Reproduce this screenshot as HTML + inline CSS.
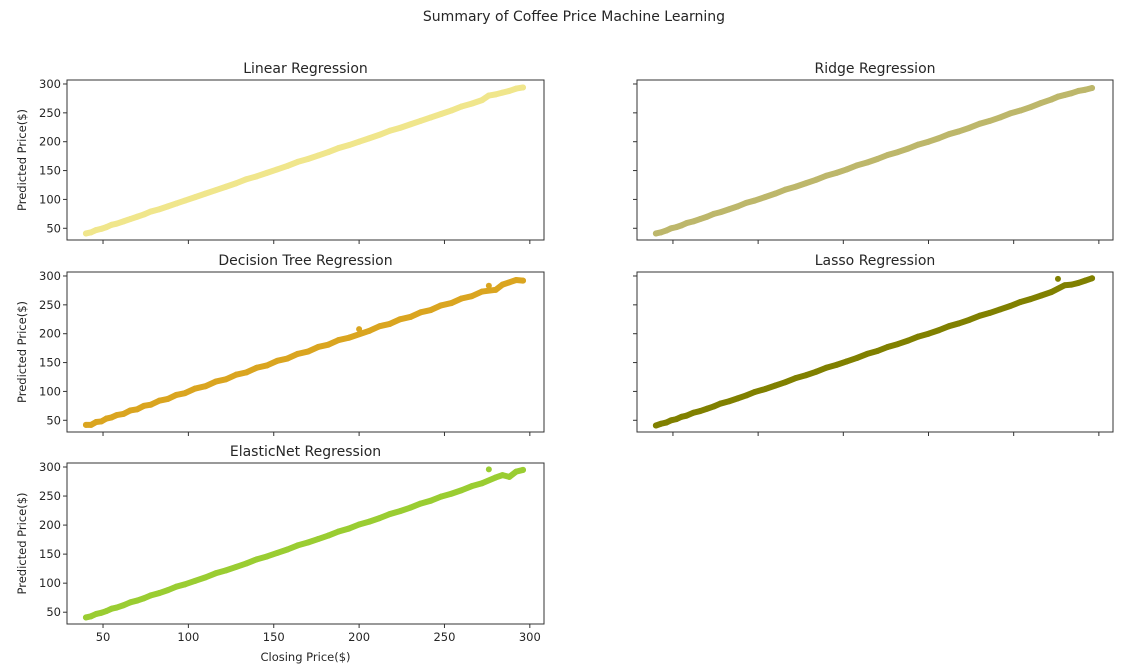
<!DOCTYPE html>
<html><head><meta charset="utf-8">
<style>
html,body{margin:0;padding:0;background:#fff;width:1148px;height:670px;overflow:hidden}
svg text{font-family:"DejaVu Sans","Liberation Sans",sans-serif;fill:#262626}
</style></head>
<body>
<svg id="chart" width="1148" height="670" xmlns="http://www.w3.org/2000/svg">
<text x="574" y="21" text-anchor="middle" font-size="14">Summary of Coffee Price Machine Learning</text>
</svg>
<script>
const closing = [40,43,46,49,52,55,58,62,66,70,74,78,83,88,93,98,104,110,116,122,128,134,140,146,152,158,164,170,176,182,188,194,200,206,212,218,224,230,236,242,248,254,260,266,272,276,280,284,288,292,296];
const predLinear = [41,43,47,49,52,56,58,62,66,70,74,79,83,88,93,98,104,110,116,122,128,135,140,146,152,158,165,170,176,182,189,194,200,206,212,219,224,230,236,242,248,254,261,266,272,280,282,285,288,292,294];
const predRidge = [41,43,46,50,52,55,59,62,66,70,75,78,83,88,94,98,104,110,117,122,128,134,141,146,152,159,164,170,177,182,188,195,200,206,213,218,224,231,236,242,249,254,260,267,273,278,281,284,288,290,293];
const predTree = [42,42,47,48,53,55,59,61,67,69,75,77,84,87,94,97,105,109,117,121,129,133,141,145,153,157,165,169,177,181,189,193,208,205,213,217,225,229,237,241,249,253,261,265,273,283,276,285,289,293,292];
const predLasso = [41,44,46,50,52,56,58,63,66,70,74,79,83,88,93,99,104,110,116,123,128,134,141,146,152,158,165,170,177,182,188,195,200,206,213,218,224,231,236,242,248,255,260,266,272,295,284,285,288,292,296];
const predElastic = [41,43,47,49,52,56,58,62,67,70,74,79,83,88,94,98,104,110,117,122,128,134,141,146,152,158,165,170,176,182,189,194,201,206,212,219,224,230,237,242,249,254,260,267,272,296,282,286,283,292,295];
const xTicks = [50,100,150,200,250,300];
const yTicks = [50,100,150,200,250,300];
const titles = ["Linear Regression","Ridge Regression","Decision Tree Regression","Lasso Regression","ElasticNet Regression"];
const series = [predLinear,predRidge,predTree,predLasso,predElastic];
const colors = ["#f0e68c","#bdb76b","#daa520","#808000","#9acd32"];

const svg = document.getElementById('chart');
const NS = 'http://www.w3.org/2000/svg';
const XMIN = 28.9, XMAX = 308.3, YMIN = 29.7, YMAX = 306.9;
const boxes = [[67,80,544,240],[637,80,1113,240],[67,272,544,432],[637,272,1113,432],[67,463,544,624]];
function mk(tag, attrs, parent){const e=document.createElementNS(NS,tag);for(const k in attrs)e.setAttribute(k,attrs[k]);(parent||svg).appendChild(e);return e;}

boxes.forEach((b,i)=>{
  const [l,t,r,bt]=b;
  const sx=v=>l+(v-XMIN)/(XMAX-XMIN)*(r-l);
  const sy=v=>bt-(v-YMIN)/(YMAX-YMIN)*(bt-t);
  const g=mk('g',{});
  
  
  const ttl=mk('text',{x:(l+r)/2,y:t-7,'text-anchor':'middle','font-size':'14'},g);
  ttl.textContent=titles[i];
  
  
  const pts=[];
  closing.forEach((c,j)=>{if(Math.abs(series[i][j]-c)<6)pts.push(sx(c)+','+sy(series[i][j]));});
  const pl=mk('polyline',{points:pts.join(' '),fill:'none',stroke:colors[i],'stroke-width':6,'stroke-linecap':'round','stroke-linejoin':'round'},g);
  
  
  closing.forEach((c,j)=>{
    const p=mk('circle',{cx:sx(c),cy:sy(series[i][j]),r:3,fill:colors[i]},g);
    
    
  });
  const fr=mk('rect',{x:l,y:t,width:r-l,height:bt-t,fill:'none',stroke:'#333','stroke-width':1},g);
  
  
  xTicks.forEach(v=>{
    mk('line',{x1:sx(v),x2:sx(v),y1:bt,y2:bt+4,stroke:'#333'},g);
    if(i===4){
      const tx=mk('text',{x:sx(v),y:bt+17,'text-anchor':'middle','font-size':'11.5'},g);
      tx.textContent=v;
      
      
    }
  });
  yTicks.forEach(v=>{
    mk('line',{x1:l-4,x2:l,y1:sy(v),y2:sy(v),stroke:'#333'},g);
    if(i%2===0){
      const ty=mk('text',{x:l-6,y:sy(v)+4,'text-anchor':'end','font-size':'11.5'},g);
      ty.textContent=v;
      
      
    }
  });
  if(i%2===0){
    const yl=mk('text',{x:0,y:0,'text-anchor':'middle','font-size':'11.5',transform:`translate(26,${(t+bt)/2}) rotate(-90)`},g);
    yl.textContent='Predicted Price($)';
    
    
  }
  if(i===4){
    const xl=mk('text',{x:(l+r)/2,y:bt+37,'text-anchor':'middle','font-size':'11.5'},g);
    xl.textContent='Closing Price($)';
    
    
  }
});
</script>
</body></html>
